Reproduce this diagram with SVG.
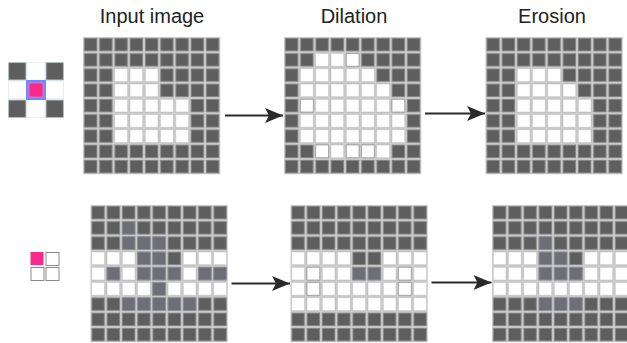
<svg xmlns="http://www.w3.org/2000/svg" xmlns:xlink="http://www.w3.org/1999/xlink" width="627" height="343" viewBox="0 0 627 343">
<style>
.lbl{font-family:"Liberation Sans",Arial,sans-serif;font-size:20px;fill:#222;text-anchor:middle}
.w{fill:#fefefe;stroke:#d6d6d6;stroke-width:0.8}
.wb{fill:#fefefe;stroke:#a4a4a4;stroke-width:0.8}
.m{fill:#6e6e76;stroke:#9494a0;stroke-width:0.8}
.d{fill:#5e5e5e;stroke:#8a8a8a;stroke-width:0.8}
.conn{stroke:#2a2a2a;stroke-width:2;fill:none}
</style>
<defs>
<pattern id="cells" patternUnits="userSpaceOnUse" x="0" y="0" width="15.25" height="15.25">
<rect width="15.25" height="15.25" fill="#d0d0d0"/>
<rect x="1.25" y="1.25" width="12.75" height="12.75" fill="#5e5e5e" stroke="#8a8a8a" stroke-width="0.8"/>
</pattern>
<rect id="W" class="w" width="12.75" height="12.75"/>
<rect id="WB" class="wb" width="12.75" height="12.75"/>
<rect id="M" class="m" width="12.75" height="12.75"/>
<rect id="D" class="d" width="12.75" height="12.75"/>
<marker id="ah" markerUnits="userSpaceOnUse" markerWidth="20" markerHeight="16" refX="18" refY="8" orient="auto">
<path d="M0,0.5 L18,8 L0,15.5 L4,8 Z" fill="#2a2a2a"/>
</marker>
</defs>
<rect width="627" height="343" fill="#fff"/>

<g id="labels">
<text class="lbl" x="152" y="23">Input image</text>
<text class="lbl" x="354" y="23">Dilation</text>
<text class="lbl" x="552" y="23">Erosion</text>
</g>

<g id="se-cross" transform="translate(8,62)">
<rect width="56" height="56" fill="#e4e8f6"/>
<rect x="0.8" y="0.8" width="17" height="17" fill="#5e5e5e" stroke="#9aa" stroke-width="0.6"/>
<rect x="19.5" y="0.8" width="17" height="17" fill="#fff"/>
<rect x="38.2" y="0.8" width="17" height="17" fill="#5e5e5e" stroke="#9aa" stroke-width="0.6"/>
<rect x="0.8" y="19.5" width="17" height="17" fill="#fff"/>
<rect x="38.2" y="19.5" width="17" height="17" fill="#fff"/>
<rect x="0.8" y="38.2" width="17" height="17" fill="#5e5e5e" stroke="#9aa" stroke-width="0.6"/>
<rect x="19.5" y="38.2" width="17" height="17" fill="#fff"/>
<rect x="38.2" y="38.2" width="17" height="17" fill="#5e5e5e" stroke="#9aa" stroke-width="0.6"/>
<rect x="18" y="18" width="20" height="20" fill="#6b8cff"/>
<rect x="20.5" y="20.5" width="15" height="15" fill="#f06ac0"/>
<rect x="21.5" y="21.5" width="13" height="13" fill="#fa2a8c"/>
</g>

<g id="se-square" transform="translate(30.5,252)">
<rect x="0" y="0" width="13" height="13" fill="#fa2a8c"/>
<rect x="15.5" y="0.5" width="13" height="13" fill="#fff" stroke="#8a8a8a" stroke-width="1"/>
<rect x="0.5" y="15.5" width="13" height="13" fill="#fff" stroke="#8a8a8a" stroke-width="1"/>
<rect x="15.5" y="15.5" width="13" height="13" fill="#fff" stroke="#8a8a8a" stroke-width="1"/>
</g>

<!-- top row -->
<g id="input-top" transform="translate(83,37)">
<rect width="137.25" height="137.25" fill="url(#cells)"/>
<use href="#W" x="31.75" y="31.75"/><use href="#W" x="47" y="31.75"/><use href="#W" x="62.25" y="31.75"/>
<use href="#W" x="31.75" y="47"/><use href="#W" x="47" y="47"/><use href="#W" x="62.25" y="47"/>
<use href="#W" x="31.75" y="62.25"/><use href="#W" x="47" y="62.25"/><use href="#W" x="62.25" y="62.25"/><use href="#W" x="77.5" y="62.25"/><use href="#W" x="92.75" y="62.25"/>
<use href="#W" x="31.75" y="77.5"/><use href="#W" x="47" y="77.5"/><use href="#W" x="62.25" y="77.5"/><use href="#W" x="77.5" y="77.5"/><use href="#W" x="92.75" y="77.5"/>
<use href="#W" x="31.75" y="92.75"/><use href="#W" x="47" y="92.75"/><use href="#W" x="62.25" y="92.75"/><use href="#W" x="77.5" y="92.75"/><use href="#W" x="92.75" y="92.75"/>
</g>

<g id="dilation-top" transform="translate(284,37)">
<rect width="137.25" height="137.25" fill="url(#cells)"/>
<use href="#W" x="31.75" y="16.5"/><use href="#W" x="47" y="16.5"/><use href="#WB" x="62.25" y="16.5"/>
<use href="#W" x="16.5" y="31.75"/><use href="#W" x="31.75" y="31.75"/><use href="#W" x="47" y="31.75"/><use href="#W" x="62.25" y="31.75"/><use href="#W" x="77.5" y="31.75"/>
<use href="#W" x="16.5" y="47"/><use href="#W" x="31.75" y="47"/><use href="#W" x="47" y="47"/><use href="#W" x="62.25" y="47"/><use href="#W" x="77.5" y="47"/><use href="#W" x="92.75" y="47"/>
<use href="#WB" x="16.5" y="62.25"/><use href="#W" x="31.75" y="62.25"/><use href="#W" x="47" y="62.25"/><use href="#W" x="62.25" y="62.25"/><use href="#W" x="77.5" y="62.25"/><use href="#W" x="92.75" y="62.25"/><use href="#WB" x="108" y="62.25"/>
<use href="#W" x="16.5" y="77.5"/><use href="#W" x="31.75" y="77.5"/><use href="#W" x="47" y="77.5"/><use href="#W" x="62.25" y="77.5"/><use href="#W" x="77.5" y="77.5"/><use href="#W" x="92.75" y="77.5"/><use href="#W" x="108" y="77.5"/>
<use href="#W" x="16.5" y="92.75"/><use href="#W" x="31.75" y="92.75"/><use href="#W" x="47" y="92.75"/><use href="#W" x="62.25" y="92.75"/><use href="#W" x="77.5" y="92.75"/><use href="#W" x="92.75" y="92.75"/><use href="#W" x="108" y="92.75"/>
<use href="#WB" x="31.75" y="108"/><use href="#W" x="47" y="108"/><use href="#WB" x="62.25" y="108"/><use href="#WB" x="77.5" y="108"/><use href="#W" x="92.75" y="108"/>
</g>

<g id="erosion-top" transform="translate(485.5,37)">
<rect width="137.25" height="137.25" fill="url(#cells)"/>
<use href="#W" x="31.75" y="31.75"/><use href="#W" x="47" y="31.75"/><use href="#W" x="62.25" y="31.75"/>
<use href="#W" x="31.75" y="47"/><use href="#W" x="47" y="47"/><use href="#W" x="62.25" y="47"/><use href="#W" x="77.5" y="47"/>
<use href="#W" x="31.75" y="62.25"/><use href="#W" x="47" y="62.25"/><use href="#W" x="62.25" y="62.25"/><use href="#W" x="77.5" y="62.25"/><use href="#W" x="92.75" y="62.25"/>
<use href="#W" x="31.75" y="77.5"/><use href="#W" x="47" y="77.5"/><use href="#W" x="62.25" y="77.5"/><use href="#W" x="77.5" y="77.5"/><use href="#W" x="92.75" y="77.5"/>
<use href="#W" x="31.75" y="92.75"/><use href="#W" x="47" y="92.75"/><use href="#W" x="62.25" y="92.75"/><use href="#W" x="77.5" y="92.75"/><use href="#W" x="92.75" y="92.75"/>
</g>

<!-- bottom row -->
<g id="input-bottom" transform="translate(90.5,205)">
<rect width="137.25" height="137.25" fill="url(#cells)"/>
<use href="#M" x="31.75" y="16.5"/>
<use href="#M" x="31.75" y="31.75"/><use href="#M" x="47" y="31.75"/><use href="#M" x="62.25" y="31.75"/>
<use href="#W" x="1.25" y="47"/><use href="#W" x="16.5" y="47"/><use href="#W" x="31.75" y="47"/><use href="#M" x="47" y="47"/><use href="#M" x="62.25" y="47"/><use href="#W" x="92.75" y="47"/><use href="#W" x="108" y="47"/><use href="#W" x="123.25" y="47"/>
<use href="#W" x="1.25" y="62.25"/><use href="#M" x="16.5" y="62.25"/><use href="#W" x="31.75" y="62.25"/><use href="#M" x="47" y="62.25"/><use href="#M" x="62.25" y="62.25"/><use href="#M" x="77.5" y="62.25"/><use href="#W" x="92.75" y="62.25"/><use href="#M" x="108" y="62.25"/><use href="#M" x="123.25" y="62.25"/>
<use href="#W" x="1.25" y="77.5"/><use href="#W" x="16.5" y="77.5"/><use href="#W" x="31.75" y="77.5"/><use href="#W" x="47" y="77.5"/><use href="#M" x="62.25" y="77.5"/><use href="#W" x="77.5" y="77.5"/><use href="#W" x="92.75" y="77.5"/><use href="#W" x="108" y="77.5"/><use href="#W" x="123.25" y="77.5"/>
<use href="#M" x="31.75" y="92.75"/><use href="#M" x="47" y="92.75"/><use href="#M" x="62.25" y="92.75"/><use href="#M" x="77.5" y="92.75"/><use href="#M" x="92.75" y="92.75"/>
</g>

<g id="dilation-bottom" transform="translate(290.5,205)">
<rect width="137.25" height="137.25" fill="url(#cells)"/>
<use href="#W" x="1.25" y="47"/><use href="#W" x="16.5" y="47"/><use href="#W" x="31.75" y="47"/><use href="#W" x="47" y="47"/><use href="#W" x="92.75" y="47"/><use href="#W" x="108" y="47"/><use href="#W" x="123.25" y="47"/>
<use href="#W" x="1.25" y="62.25"/><use href="#WB" x="16.5" y="62.25"/><use href="#W" x="31.75" y="62.25"/><use href="#W" x="47" y="62.25"/><use href="#M" x="62.25" y="62.25"/><use href="#M" x="77.5" y="62.25"/><use href="#W" x="92.75" y="62.25"/><use href="#WB" x="108" y="62.25"/><use href="#W" x="123.25" y="62.25"/>
<use href="#W" x="1.25" y="77.5"/><use href="#WB" x="16.5" y="77.5"/><use href="#W" x="31.75" y="77.5"/><use href="#W" x="47" y="77.5"/><use href="#W" x="62.25" y="77.5"/><use href="#W" x="77.5" y="77.5"/><use href="#W" x="92.75" y="77.5"/><use href="#WB" x="108" y="77.5"/><use href="#W" x="123.25" y="77.5"/>
<use href="#W" x="1.25" y="92.75"/><use href="#W" x="16.5" y="92.75"/><use href="#W" x="31.75" y="92.75"/><use href="#W" x="47" y="92.75"/><use href="#W" x="62.25" y="92.75"/><use href="#W" x="77.5" y="92.75"/><use href="#W" x="92.75" y="92.75"/><use href="#W" x="108" y="92.75"/><use href="#W" x="123.25" y="92.75"/>
</g>

<g id="erosion-bottom" transform="translate(492,205)">
<rect width="137.25" height="137.25" fill="url(#cells)"/>
<use href="#M" x="47" y="31.75"/>
<use href="#W" x="1.25" y="47"/><use href="#W" x="16.5" y="47"/><use href="#W" x="31.75" y="47"/><use href="#M" x="47" y="47"/><use href="#M" x="62.25" y="47"/><use href="#W" x="92.75" y="47"/><use href="#W" x="108" y="47"/><use href="#W" x="123.25" y="47"/>
<use href="#W" x="1.25" y="62.25"/><use href="#W" x="16.5" y="62.25"/><use href="#W" x="31.75" y="62.25"/><use href="#M" x="47" y="62.25"/><use href="#M" x="62.25" y="62.25"/><use href="#M" x="77.5" y="62.25"/><use href="#W" x="92.75" y="62.25"/><use href="#W" x="108" y="62.25"/><use href="#W" x="123.25" y="62.25"/>
<use href="#W" x="1.25" y="77.5"/><use href="#W" x="16.5" y="77.5"/><use href="#W" x="31.75" y="77.5"/><use href="#W" x="47" y="77.5"/><use href="#W" x="62.25" y="77.5"/><use href="#W" x="77.5" y="77.5"/><use href="#W" x="92.75" y="77.5"/><use href="#W" x="108" y="77.5"/><use href="#W" x="123.25" y="77.5"/>
<use href="#M" x="47" y="92.75"/><use href="#M" x="62.25" y="92.75"/><use href="#M" x="77.5" y="92.75"/>
</g>

<g id="connectors">
<path class="conn" d="M225,115.5 H283" marker-end="url(#ah)"/>
<path class="conn" d="M425,113.5 H485" marker-end="url(#ah)"/>
<path class="conn" d="M231.5,283.5 H290" marker-end="url(#ah)"/>
<path class="conn" d="M431.5,282.5 H491.5" marker-end="url(#ah)"/>
</g>
</svg>
